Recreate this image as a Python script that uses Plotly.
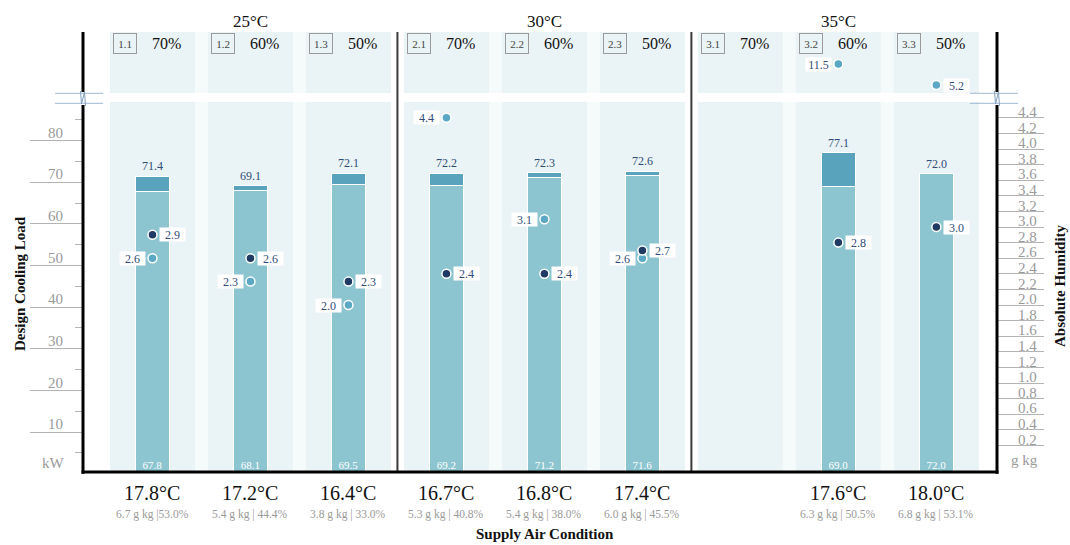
import plotly.graph_objects as go

# ---- data -------------------------------------------------------------
categories = ["1.1", "1.2", "1.3", "2.1", "2.2", "2.3", "3.1", "3.2", "3.3"]
group_temps = ["25°C", "30°C", "35°C"]
outdoor_rh = ["70%", "60%", "50%", "70%", "60%", "50%", "70%", "60%", "50%"]

base_load = [67.8, 68.1, 69.5, 69.2, 71.2, 71.6, None, 69.0, 72.0]
total_load = [71.4, 69.1, 72.1, 72.2, 72.3, 72.6, None, 77.1, 72.0]

humidity_dark = [2.9, 2.6, 2.3, 2.4, 2.4, 2.7, None, 2.8, 3.0]
humidity_light = [2.6, 2.3, 2.0, 4.4, 3.1, 2.6, None, 11.5, 5.2]

supply_temp = ["17.8°C", "17.2°C", "16.4°C", "16.7°C", "16.8°C", "17.4°C", "", "17.6°C", "18.0°C"]
supply_detail = ["6.7 g kg |53.0%", "5.4 g kg | 44.4%", "3.8 g kg | 33.0%",
                 "5.3 g kg | 40.8%", "5.4 g kg | 38.0%", "6.0 g kg | 45.5%",
                 "", "6.3 g kg | 50.5%", "6.8 g kg | 53.1%"]

kw_ticks = [10, 20, 30, 40, 50, 60, 70, 80]
kw_minor = [5, 15, 25, 35, 45, 55, 65, 75, 85]
gkg_ticks = [0.2, 0.4, 0.6, 0.8, 1.0, 1.2, 1.4, 1.6, 1.8, 2.0, 2.2,
             2.4, 2.6, 2.8, 3.0, 3.2, 3.4, 3.6, 3.8, 4.0, 4.2, 4.4]

# ---- style ------------------------------------------------------------
FONT = "Liberation Serif"
PANEL = "#eaf3f5"
STRIP = "#f5fafb"
BASE_C = "#8cc5cf"
TOP_C = "#5aa3bd"
DARK_DOT = "#1f3b63"
LIGHT_DOT = "#5aa8c3"
LABEL_C = "#2f4d78"
GREY_LINE = "#b4b4b4"
GREY_TXT = "#9a9a9a"
BREAK_C = "#9fbad3"

W, H = 1070, 545
ML, MR, MT, MB = 83, 73, 32, 73
PW, PH = W - ML - MR, H - MT - MB

LOWER_DOM = [0, 0.84091]
UPPER_DOM = [0.86136, 1]
Y2_RANGE = [-0.141, 4.603]
Y3_RANGE = [2.8, 21.1]
BAR_W = 0.347
PANEL_HALF = 0.434
LIGHT_LABEL_RIGHT = {"3.3"}


def px(xp, yp):
    """pixel position -> paper coordinates"""
    return (xp - ML) / PW, (MT + PH - yp) / PH


fig = go.Figure()

# ---- stacked cooling-load bars ---------------------------------------
top_part = [None if (b is None or t is None or round(t - b, 2) <= 0) else round(t - b, 2)
            for b, t in zip(base_load, total_load)]

fig.add_trace(go.Bar(
    x=categories, y=base_load, width=BAR_W,
    marker=dict(color=BASE_C, line=dict(color="white", width=1)),
    text=[f"{v:.1f}" if v is not None else "" for v in base_load],
    textposition="inside", insidetextanchor="start", textangle=0,
    textfont=dict(family=FONT, size=11, color="white"),
    constraintext="none", hoverinfo="skip",
))
fig.add_trace(go.Bar(
    x=categories, y=top_part, width=BAR_W,
    marker=dict(color=TOP_C, line=dict(color="white", width=1)),
    hoverinfo="skip",
))

# ---- humidity markers (lower and upper, broken axis) ----------------
lower_max = Y2_RANGE[1]
light_lo = [v if (v is not None and v <= lower_max) else None for v in humidity_light]
light_hi = [v if (v is not None and v > lower_max) else None for v in humidity_light]

dot_style = dict(size=9, line=dict(color="white", width=1.5))
fig.add_trace(go.Scatter(x=categories, y=light_lo, yaxis="y2", mode="markers",
                         marker=dict(color=LIGHT_DOT, **dot_style), hoverinfo="skip"))
fig.add_trace(go.Scatter(x=categories, y=light_hi, yaxis="y3", mode="markers",
                         marker=dict(color=LIGHT_DOT, **dot_style), hoverinfo="skip"))
fig.add_trace(go.Scatter(x=categories, y=humidity_dark, yaxis="y2", mode="markers",
                         marker=dict(color=DARK_DOT, **dot_style), hoverinfo="skip"))

annotations = []


def value_tag(i, val, yref, side):
    annotations.append(dict(
        x=i, y=val, xref="x", yref=yref, text=f"{val:.1f}",
        xanchor="left" if side == "right" else "right", yanchor="middle",
        xshift=7 if side == "right" else -6,
        showarrow=False, bgcolor="white", width=24, height=12, borderpad=0.5,
        font=dict(family=FONT, size=12, color=LABEL_C),
    ))


for i, v in enumerate(humidity_dark):
    if v is not None:
        value_tag(i, v, "y2", "right")
for i, v in enumerate(humidity_light):
    if v is None:
        continue
    side = "right" if categories[i] in LIGHT_LABEL_RIGHT else "left"
    value_tag(i, v, "y2" if v <= lower_max else "y3", side)

# totals above bars
for i, t in enumerate(total_load):
    if t is not None:
        annotations.append(dict(x=i, y=t, xref="x", yref="y", text=f"{t:.1f}",
                                yshift=10, showarrow=False, yanchor="middle",
                                font=dict(family=FONT, size=12, color=LABEL_C)))

# ---- panels behind each column ---------------------------------------
shapes = []
n = len(categories)
for i in range(n):
    for y0, y1 in (LOWER_DOM, UPPER_DOM):
        shapes.append(dict(type="rect", xref="x", yref="paper", layer="below",
                           x0=i - PANEL_HALF, x1=i + PANEL_HALF, y0=y0, y1=y1,
                           fillcolor=PANEL, line=dict(width=0)))
        if i % 3 != 2:
            shapes.append(dict(type="rect", xref="x", yref="paper", layer="below",
                               x0=i + PANEL_HALF, x1=i + 1 - PANEL_HALF, y0=y0, y1=y1,
                               fillcolor=STRIP, line=dict(width=0)))

# group dividers
for xd in (2.5, 5.5):
    shapes.append(dict(type="line", xref="x", yref="paper", x0=xd, x1=xd, y0=0, y1=1,
                       line=dict(color="#3a3a3a", width=2), layer="above"))

# frame (left / right axis lines broken at the axis gap, bottom line)
gap_top, gap_bot = 92, 105
for xp in (ML, ML + PW):
    xa, _ = px(xp, 0)
    shapes.append(dict(type="line", xref="paper", yref="paper", x0=xa, x1=xa,
                       y0=px(0, gap_bot)[1], y1=-0.004,
                       line=dict(color="black", width=3), layer="above"))
    shapes.append(dict(type="line", xref="paper", yref="paper", x0=xa, x1=xa,
                       y0=1, y1=px(0, gap_top)[1],
                       line=dict(color="black", width=3), layer="above"))
shapes.append(dict(type="line", xref="paper", yref="paper", x0=px(81.5, 0)[0], x1=px(998.5, 0)[0],
                   y0=0, y1=0, line=dict(color="black", width=3), layer="above"))

# axis-break marks
for xp, (xl, xr) in ((ML, (55, 103)), (ML + PW, (970, 1018))):
    for yp in (93.3, 103.3):
        x0, y0 = px(xl, yp)
        x1, _ = px(xr, yp)
        shapes.append(dict(type="line", xref="paper", yref="paper", x0=x0, x1=x1, y0=y0, y1=y0,
                           line=dict(color=BREAK_C, width=1), layer="above"))
    pts = [px(xp - 2.5, 91), px(xp - 1.5, 104), px(xp + 1.5, 92), px(xp + 2.5, 106)]
    path = "M " + " L ".join(f"{a:.5f},{b:.5f}" for a, b in pts)
    shapes.append(dict(type="path", xref="paper", yref="paper", path=path,
                       line=dict(color="#7f9fbf", width=1), layer="above"))

# ---- headers ----------------------------------------------------------
CENTER = dict(xanchor="center", yanchor="middle", showarrow=False)
for g, label in enumerate(group_temps):
    annotations.append(dict(x=g * 3 + 1, y=px(0, 21)[1], xref="x", yref="paper",
                            text=label, font=dict(family=FONT, size=17, color="#111"), **CENTER))
for i, (c, rh) in enumerate(zip(categories, outdoor_rh)):
    yh = px(0, 43)[1]
    annotations.append(dict(x=i, y=yh, xref="x", yref="paper", text=c, xshift=-27,
                            bordercolor="#9a9a9a", borderwidth=1,
                            borderpad=2, width=18, height=15,
                            font=dict(family=FONT, size=11, color="#444"), **CENTER))
    annotations.append(dict(x=i, y=yh, xref="x", yref="paper", text=rh, xshift=14,
                            font=dict(family=FONT, size=16, color="#111"), **CENTER))

# ---- supply-air labels below the axis -------------------------------
for i, (t, d) in enumerate(zip(supply_temp, supply_detail)):
    if t:
        annotations.append(dict(x=i, y=px(0, 493)[1], xref="x", yref="paper", text=t,
                                font=dict(family=FONT, size=20, color="#111"), **CENTER))
    if d:
        annotations.append(dict(x=i, y=px(0, 514)[1], xref="x", yref="paper", text=d,
                                font=dict(family=FONT, size=11.5, color=GREY_TXT), **CENTER))

annotations += [
    dict(x=px(545, 0)[0], y=px(0, 534)[1], xref="paper", yref="paper",
         text="<b>Supply Air Condition</b>",
         font=dict(family=FONT, size=15, color="#111"), **CENTER),
    dict(x=px(20, 0)[0], y=px(0, 284)[1], xref="paper", yref="paper",
         text="<b>Design Cooling Load</b>", textangle=-90,
         font=dict(family=FONT, size=15, color="#111"), **CENTER),
    dict(x=px(1060, 0)[0], y=px(0, 286)[1], xref="paper", yref="paper",
         text="<b>Absolute Humidity</b>", textangle=-90,
         font=dict(family=FONT, size=15, color="#111"), **CENTER),
    dict(x=px(53, 0)[0], y=px(0, 463)[1], xref="paper", yref="paper", text="kW",
         font=dict(family=FONT, size=15, color=GREY_TXT), **CENTER),
    dict(x=px(1024, 0)[0], y=px(0, 460)[1], xref="paper", yref="paper", text="g kg",
         font=dict(family=FONT, size=15, color=GREY_TXT), **CENTER),
]

fig.update_layout(
    width=W, height=H, margin=dict(l=ML, r=MR, t=MT, b=MB, autoexpand=False),
    paper_bgcolor="white", plot_bgcolor="rgba(0,0,0,0)",
    barmode="stack", showlegend=False,
    font=dict(family=FONT, color="#222"),
    xaxis=dict(type="category", categoryorder="array", categoryarray=categories,
               range=[-0.709, 8.619], showticklabels=False, showgrid=False,
               zeroline=False, showline=False, ticks=""),
    yaxis=dict(domain=LOWER_DOM, range=[0.4, 89.26], tickvals=kw_ticks,
               ticks="outside", ticklen=52, tickcolor=GREY_LINE, tickwidth=1,
               showgrid=False, zeroline=False, showline=False,
               tickfont=dict(family=FONT, size=15, color=GREY_TXT),
               ticklabelstandoff=-36, ticklabelshift=-8,
               minor=dict(tickvals=kw_minor, ticks="outside", ticklen=7,
                          tickcolor=GREY_LINE, showgrid=False)),
    yaxis2=dict(overlaying="y", side="right", anchor="x", range=Y2_RANGE,
                tickvals=gkg_ticks, ticktext=[f"{v:.1f}" for v in gkg_ticks],
                ticks="outside", ticklen=46, tickcolor=GREY_LINE, tickwidth=1,
                showgrid=False, zeroline=False, showline=False,
                tickfont=dict(family=FONT, size=15, color=GREY_TXT),
                ticklabelstandoff=-29, ticklabelshift=-6),
    yaxis3=dict(domain=UPPER_DOM, range=Y3_RANGE, anchor="x", visible=False),
    shapes=shapes, annotations=annotations,
)

fig.write_html("out.html")
